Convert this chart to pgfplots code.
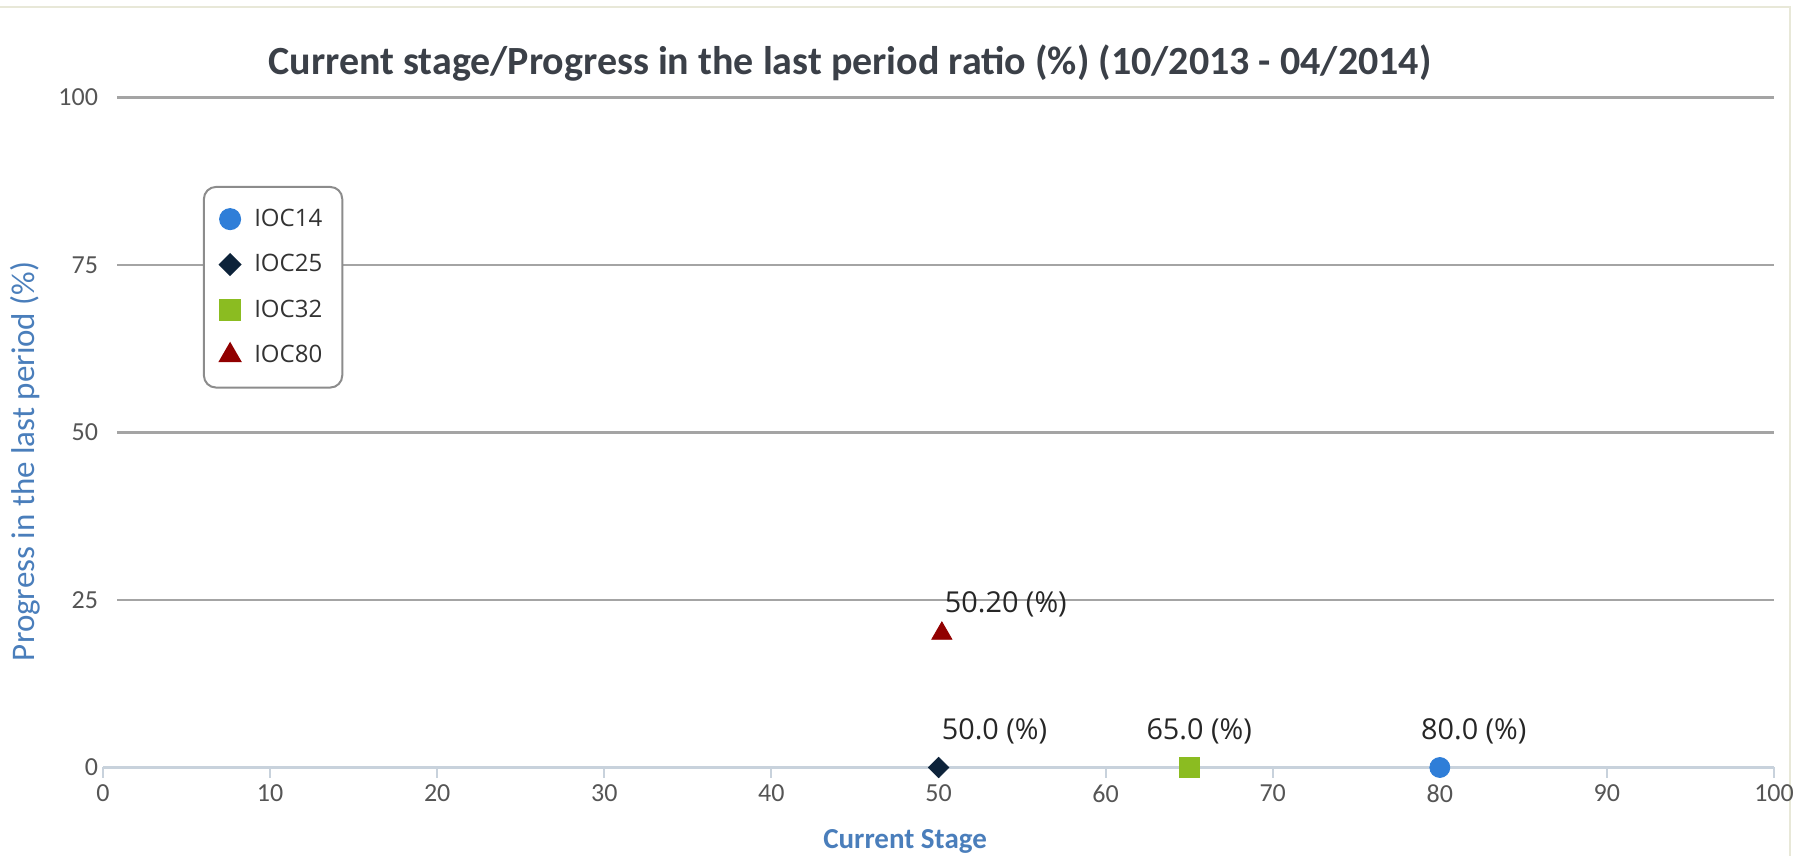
\documentclass[border=0pt]{standalone}
\usepackage{fontspec}
\setmainfont{Carlito}
\newfontfamily\labelfont{Open Sans}
\usepackage{pgfplots}
\pgfplotsset{compat=1.18}
\definecolor{c1}{HTML}{2F7ED8}
\definecolor{c2}{HTML}{0D233A}
\definecolor{c3}{HTML}{8BBC21}
\definecolor{c4}{HTML}{910000}
\definecolor{axtitle}{HTML}{4A7EBB}
\definecolor{titlecol}{HTML}{3B4048}
\definecolor{gridc}{HTML}{A4A4A4}
\definecolor{xaxisc}{HTML}{C8D2DC}
\definecolor{ticklab}{HTML}{555555}
\definecolor{legbord}{HTML}{8C8C8C}
\definecolor{framec}{HTML}{E8E8D8}
\begin{document}
\begin{tikzpicture}
\useasboundingbox (-51.5pt,-44.2pt) rectangle (848pt,383.75pt);
\draw[framec, line width=1pt] (-51.5pt,380.25pt) -- (843.5pt,380.25pt) -- (843.5pt,-44.2pt);
\begin{axis}[
  scale only axis, width=835.5pt, height=335pt,
  xmin=0, xmax=100, ymin=0, ymax=100,
  xtick={0,10,...,100}, ytick={0,25,50,75,100},
  axis x line*=bottom, axis y line*=left,
  x axis line style={xaxisc, line width=1.5pt, -},
  y axis line style={draw=none},
  xtick style={xaxisc, line width=1pt}, ytick style={draw=none},
  tick align=outside, major tick length=5pt,
  tick label style={font=\fontsize{13}{15}\selectfont, text=ticklab},
  yticklabel style={xshift=6pt},
  /pgf/number format/assume math mode=true,
  xlabel={\textbf{Current Stage}},
  ylabel={Progress in the last period (\%)},
  label style={text=axtitle},
  x label style={font=\fontsize{14.5}{16}\selectfont, at={(axis description cs:0.48,-0.11)}, anchor=center},
  y label style={font=\fontsize{16.5}{18}\selectfont, at={(axis description cs:-0.0467,0.457)}, anchor=center},
  clip=false,
  legend cell align=left,
  legend image code/.code={\draw[#1] plot coordinates {(0pt,0pt)};},
  legend style={at={(rel axis cs:0.0598,0.868)}, anchor=north west,
    draw=legbord, line width=1pt, rounded corners=6pt,
    font=\labelfont\fontsize{12}{14}\selectfont, text=black!80,
    inner xsep=8pt, inner ysep=9pt, row sep=8.5pt, column sep=5pt},
]
\pgfplotsinvokeforeach{25,50,75,100}{
  \draw[gridc, line width=1.1pt] (axis cs:0.85,#1) -- (axis cs:100,#1);
}
\addplot[only marks, mark=*, color=c1, mark options={fill=c1, draw=c1, sharp corners}, mark size=5pt,
  nodes near coords={80.0 (\%)},
  every node near coord/.append style={font=\labelfont\fontsize{14.4}{16}\selectfont, text=black!85, anchor=center, yshift=18pt, xshift=17pt}]
  coordinates {(80,0)};
\addlegendentry{IOC14}
\addplot[only marks, mark=square*, color=c2, mark options={fill=c2, draw=c2, rotate=45, sharp corners}, mark size=3.6pt,
  nodes near coords={50.0 (\%)},
  every node near coord/.append style={font=\labelfont\fontsize{14.4}{16}\selectfont, text=black!85, anchor=center, yshift=18pt, xshift=28pt}]
  coordinates {(50,0)};
\addlegendentry{IOC25}
\addplot[only marks, mark=square*, color=c3, mark options={fill=c3, draw=c3, sharp corners}, mark size=5pt,
  nodes near coords={65.0 (\%)},
  every node near coord/.append style={font=\labelfont\fontsize{14.4}{16}\selectfont, text=black!85, anchor=center, yshift=18pt, xshift=5pt}]
  coordinates {(65,0)};
\addlegendentry{IOC32}
\addplot[only marks, mark=triangle*, color=c4, mark options={fill=c4, draw=c4, sharp corners}, mark size=5.8pt,
  nodes near coords={50.20 (\%)},
  every node near coord/.append style={font=\labelfont\fontsize{14.4}{16}\selectfont, text=black!85, anchor=center, yshift=14.5pt, xshift=32pt}]
  coordinates {(50.2,20)};
\addlegendentry{IOC80}
\node[font=\bfseries\fontsize{20}{24}\selectfont, text=titlecol, anchor=center] at (rel axis cs:0.447,1) [yshift=17pt] {Current stage/Progress in the last period ratio (\%) (10/2013 - 04/2014)};
\end{axis}
\end{tikzpicture}
\end{document}
